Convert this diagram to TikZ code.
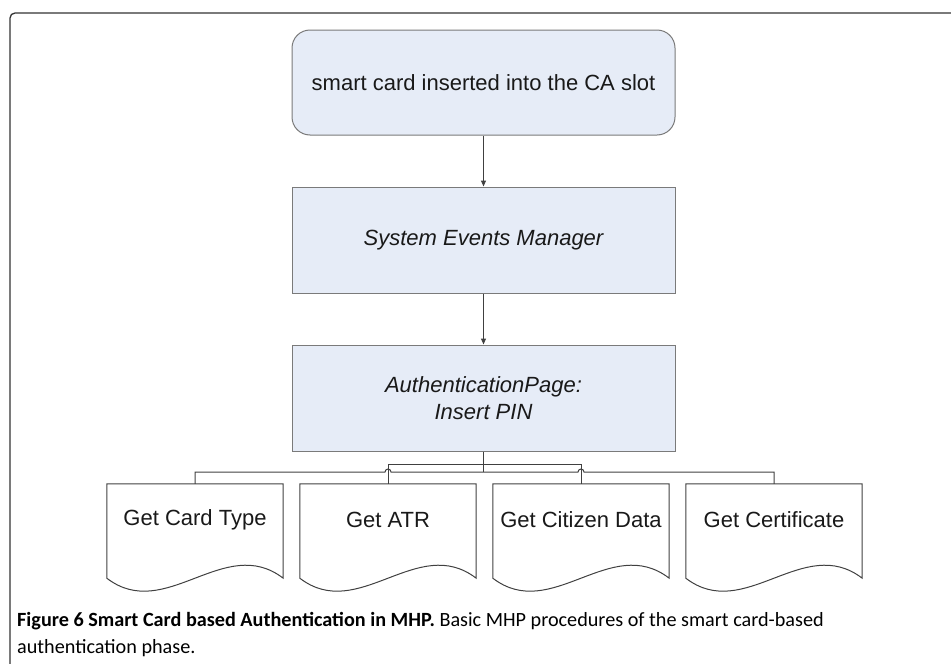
\documentclass[tikz,border=0pt]{standalone}
\usepackage{fontspec}
\setmainfont{Liberation Sans}
\newfontfamily\capfont{Carlito}
\usetikzlibrary{arrows.meta}
\definecolor{boxfill}{HTML}{E6ECF7}
\definecolor{boxline}{HTML}{7A7A7A}
\definecolor{linkline}{HTML}{404040}
\definecolor{framegray}{HTML}{333333}

\begin{document}
\begin{tikzpicture}[x=1pt, y=-1pt,
    every node/.style={font=\fontsize{22}{27}\selectfont, text=black!90, inner sep=0pt},
    procbox/.style={draw=boxline, fill=boxfill, line width=1pt, minimum width=383pt, minimum height=106pt, align=center},
    docbox/.style={minimum width=176pt, minimum height=72pt},
    link/.style={draw=linkline, line width=1pt},
    arr/.style={link, -{Triangle[length=6pt, width=5pt]}}]
                \useasboundingbox (0,0) rectangle (951,664);
                \draw[framegray, line width=1.3pt, rounded corners=5pt] (951,13) -- (10,13) -- (10,664);

                \node[procbox, rounded corners=18pt, minimum height=105pt] (card) at (483.5,82.5) {smart card inserted into the CA slot};
                \node[procbox, font=\fontsize{22}{27}\selectfont\itshape] (events) at (483.5,240) {System Events Manager};
                \node[procbox, font=\fontsize{22}{27}\selectfont\itshape] (auth) at (483.5,398) {AuthenticationPage:\\Insert PIN};

                \node[docbox] (type) at (195,520) {Get Card Type};
                \node[docbox] (atr) at (388,520) {Get ATR};
                \node[docbox] (citizen) at (581,520) {Get Citizen Data};
                \node[docbox] (cert) at (774,520) {Get Certificate};

                \coordinate (lowbus) at (483.5,472);
                \coordinate (upbus) at (483.5,464);

                \foreach \d in {type, atr, citizen, cert}
                    \draw[link] (\d.north west) -- ([yshift=-22pt]\d.south west)
                        .. controls +(58.7pt,-45pt) and +(-58.7pt,45pt) .. ([yshift=-22pt]\d.south east)
                        -- (\d.north east) -- cycle;

                \draw[arr] (card) -- (events);
                \draw[arr] (events) -- (auth);
                \draw[link] (auth) -- (lowbus);
                \draw[link] (type.north) |- ([xshift=-3pt]atr.north |- lowbus)
                    arc[start angle=180, end angle=0, radius=3pt]
                    -- ([xshift=-3pt]citizen.north |- lowbus)
                    arc[start angle=180, end angle=0, radius=3pt]
                    -| (cert.north);
                \draw[link] (atr.north) |- (citizen.north |- upbus) -- (citizen.north);

                \node[anchor=base west, align=left, text=black, font=\capfont\fontsize{20.2}{27}\selectfont] (caption) at (17,653)
                    {\textbf{Figure 6 Smart Card based Authentication in MHP.} Basic MHP procedures of the smart card-based\\authentication phase.};
            \end{tikzpicture}
\end{document}
